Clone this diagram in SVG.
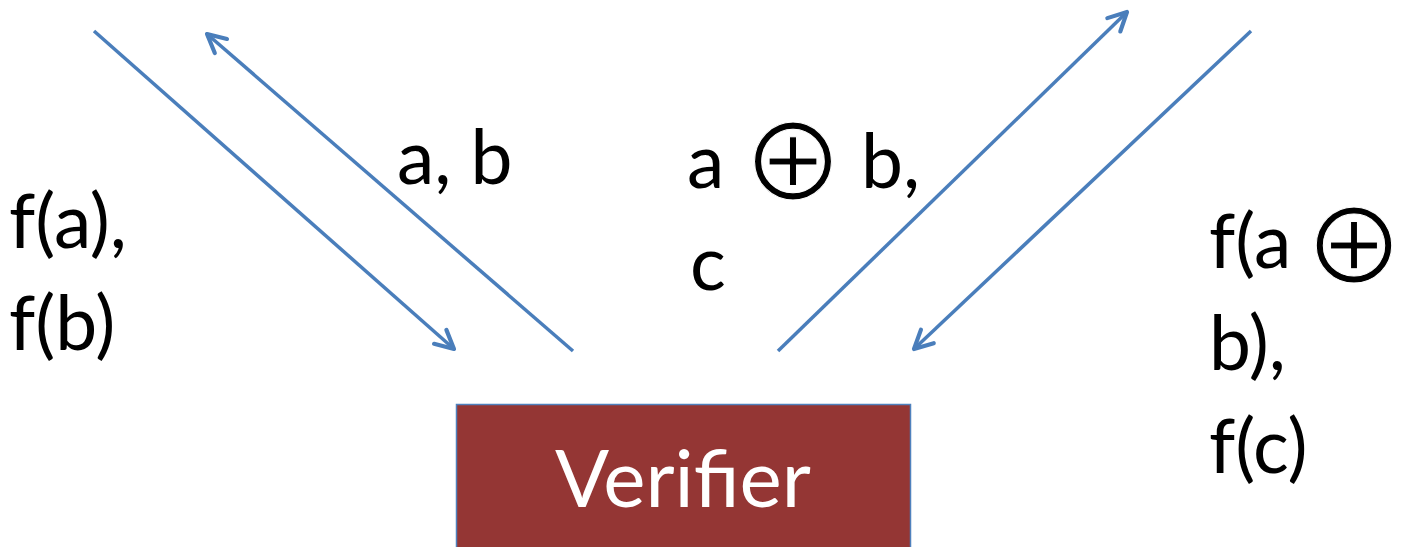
<svg xmlns="http://www.w3.org/2000/svg" width="1408" height="547" viewBox="0 0 1408 547">
<defs>
<marker id="ah" viewBox="0 0 10 10" refX="9" refY="5" markerWidth="7" markerHeight="7" orient="auto-start-reverse" markerUnits="strokeWidth">
<path d="M1.5,1.2 L9,5 L1.5,8.8" fill="none" stroke="#4a7ebb" stroke-width="1.7" stroke-linecap="round" stroke-linejoin="round"/>
</marker>
<style>
.t{font-family:Lato,"Open Sans",sans-serif;font-size:75px;fill:#000}
.o{font-family:"Noto Sans CJK JP","DejaVu Sans",sans-serif;font-size:104px;stroke:#fff;stroke-width:1px}
.c{stroke:#4a7ebb;stroke-width:3.5;fill:none}
</style>
</defs>
<rect width="1408" height="547" fill="#fff"/>
<g id="connectors">
<line class="c" x1="94" y1="31" x2="454" y2="349" marker-end="url(#ah)"/>
<line class="c" x1="573" y1="351" x2="207" y2="34" marker-end="url(#ah)"/>
<line class="c" x1="778" y1="351" x2="1127" y2="12" marker-end="url(#ah)"/>
<line class="c" x1="1251" y1="31" x2="914" y2="349" marker-end="url(#ah)"/>
</g>
<g id="verifier">
<rect x="456.5" y="404.5" width="454" height="150" fill="#943634" stroke="#4f81bd" stroke-width="1.5"/>
<text x="683" y="507" text-anchor="middle" font-family="Lato,'Open Sans',sans-serif" font-size="80" fill="#fff">Verifier</text>
</g>
<g id="labels">
<text class="t" x="9" y="248">f(a),</text>
<text class="t" x="9" y="350">f(b)</text>
<text class="t" x="397" y="184">a, b</text>
<text class="t" x="687" y="188">a<tspan class="o" x="741" y="201">⊕</tspan><tspan x="861" y="188">b,</tspan></text>
<text class="t" x="690" y="290">c</text>
<text class="t" x="1209" y="268">f(a<tspan class="o" x="1303" y="284" style="font-size:102px">⊕</tspan></text>
<text class="t" x="1209" y="370">b),</text>
<text class="t" x="1209" y="473">f(c)</text>
</g>
</svg>
